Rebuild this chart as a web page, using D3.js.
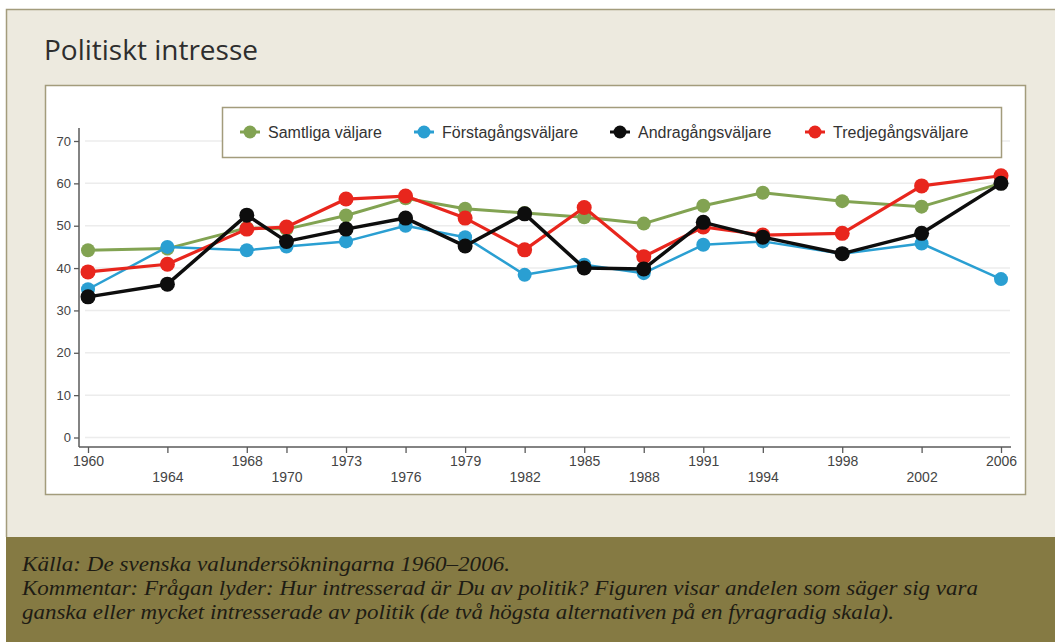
<!DOCTYPE html>
<html>
<head>
<meta charset="utf-8">
<script src="https://cdn.jsdelivr.net/npm/d3@7"></script>
<style>
    body { margin: 0; background: #fff; }
    svg { display: block; }
</style>
</head>
<body>
<div id="chart"></div>
<script>
// data
const years = [1960, 1964, 1968, 1970, 1973, 1976, 1979, 1982, 1985, 1988, 1991, 1994, 1998, 2002, 2006];
const samtliga = [44.2, 44.6, 49.5, 49.2, 52.4, 56.5, 54, 53, 52, 50.5, 54.7, 57.8, 55.8, 54.5, 60];
const forsta = [35, 45, 44.2, 45.1, 46.3, 50, 47.3, 38.4, 40.8, 38.8, 45.5, 46.3, 43.4, 45.8, 37.4];
const andra = [33.2, 36.2, 52.5, 46.3, 49.2, 51.8, 45.2, 52.8, 40, 39.8, 50.8, 47.3, 43.4, 48.2, 60];
const tredje = [39.1, 40.9, 49.2, 49.7, 56.3, 57, 51.8, 44.3, 54.3, 42.7, 49.7, 47.8, 48.2, 59.4, 61.8];
const seriesNames = ['Samtliga väljare', 'Förstagångsväljare', 'Andragångsväljare', 'Tredjegångsväljare'];
const yTicks = [0, 10, 20, 30, 40, 50, 60, 70];
const title = 'Politiskt intresse';
const notes = [
    'Källa: De svenska valundersökningarna 1960–2006.',
    'Kommentar: Frågan lyder: Hur intresserad är Du av politik? Figuren visar andelen som säger sig vara',
    'ganska eller mycket intresserade av politik (de två högsta alternativen på en fyragradig skala).'
];

function lineChart({
    bind = null,
    width = 1055,
    height = 642,
} = {}) {

    const svg = bind.append('svg')
        .attr('width', width)
        .attr('height', height);

    const frameColor = '#a39c7c';

    // beige page with frame lines on top and left
    svg.append('rect')
        .attr('x', 6).attr('y', 9)
        .attr('width', width - 6).attr('height', 537 - 9)
        .attr('fill', '#edeadf');
    svg.append('path')
        .attr('d', `M${width},9.5H6.5V537`)
        .attr('fill', 'none')
        .attr('stroke', frameColor)
        .attr('stroke-width', 1.5);

    svg.append('text')
        .attr('x', 44).attr('y', 60)
        .attr('font-family', '"Open Sans", sans-serif')
        .attr('font-size', 28)
        .attr('fill', '#2e2e2e')
        .text(title);

    // white plot panel
    svg.append('rect')
        .attr('x', 45.5).attr('y', 85.5)
        .attr('width', 980).attr('height', 409)
        .attr('fill', '#fff')
        .attr('stroke', frameColor)
        .attr('stroke-width', 1.5);

    // footer
    const footer = svg.append('g');
    footer.append('rect')
        .attr('x', 6).attr('y', 537)
        .attr('width', width - 6).attr('height', height - 537)
        .attr('fill', '#857a43');
    const noteWidths = [488, 956, 872];
    footer.selectAll('text')
        .data(notes)
        .join('text')
        .attr('x', 22)
        .attr('y', (d, i) => 571 + i * 24)
        .attr('font-family', '"Liberation Serif", "Times New Roman", serif')
        .attr('font-style', 'italic')
        .attr('font-size', 20)
        .attr('fill', '#1e1c14')
        .attr('textLength', (d, i) => noteWidths[i])
        .attr('lengthAdjust', 'spacingAndGlyphs')
        .text(d => d);

    // scales
    const x = d3.scaleLinear().domain([1960, 2006]).range([88, 1001]);
    const y = d3.scaleLinear().domain([0, 70]).range([437.5, 141]);

    const axisColor = '#5a5a5a';
    const font = '"Liberation Sans", Arial, sans-serif';

    // grid
    svg.append('g')
        .selectAll('line')
        .data(yTicks)
        .join('line')
        .attr('x1', 85).attr('x2', 1010)
        .attr('y1', d => y(d)).attr('y2', d => y(d))
        .attr('stroke', '#ececec')
        .attr('stroke-width', 1.5);

    // y axis
    const yAxis = svg.append('g')
        .attr('transform', 'translate(79,0)')
        .call(d3.axisLeft(y).tickValues(yTicks).tickSize(5).tickPadding(3));
    yAxis.select('.domain').remove();
    yAxis.selectAll('line').attr('stroke', axisColor).attr('stroke-width', 1.3);
    yAxis.selectAll('text')
        .attr('font-family', font)
        .attr('font-size', 13)
        .attr('fill', '#444');
    svg.append('line')
        .attr('x1', 79).attr('x2', 79)
        .attr('y1', 128).attr('y2', 447)
        .attr('stroke', axisColor).attr('stroke-width', 1.5);

    // x axis, labels on two alternating rows
    const xAxis = svg.append('g')
        .attr('transform', 'translate(0,447)')
        .call(d3.axisBottom(x).tickValues(years).tickFormat(d3.format('d')).tickSize(6).tickPadding(4));
    xAxis.select('.domain').remove();
    xAxis.selectAll('line').attr('stroke', axisColor).attr('stroke-width', 1.3);
    xAxis.selectAll('text')
        .attr('font-family', font)
        .attr('font-size', 14)
        .attr('fill', '#444')
        .attr('y', (d, i) => i % 2 === 0 ? 9 : 25);
    svg.append('line')
        .attr('x1', 79).attr('x2', 1011)
        .attr('y1', 447).attr('y2', 447)
        .attr('stroke', axisColor).attr('stroke-width', 1.5);

    // series
    const series = [
        {name: seriesNames[0], values: samtliga, color: '#82a352', width: 3, r: 7},
        {name: seriesNames[1], values: forsta, color: '#2a9fd2', width: 2.5, r: 7},
        {name: seriesNames[3], values: tredje, color: '#e8261d', width: 3.2, r: 7.5},
        {name: seriesNames[2], values: andra, color: '#0d0d0d', width: 3.5, r: 7.5},
    ];

    const line = d3.line()
        .x((d, i) => x(years[i]))
        .y(d => y(d));

    const groups = svg.append('g')
        .selectAll('g.series')
        .data(series)
        .join('g')
        .classed('series', true);

    groups.append('path')
        .attr('d', d => line(d.values))
        .attr('fill', 'none')
        .attr('stroke', d => d.color)
        .attr('stroke-width', d => d.width)
        .attr('stroke-linejoin', 'round');

    groups.selectAll('circle')
        .data(d => d.values.map((v, i) => ({v, i, s: d})))
        .join('circle')
        .attr('cx', d => x(years[d.i]))
        .attr('cy', d => y(d.v))
        .attr('r', d => d.s.r)
        .attr('fill', d => d.s.color);

    // legend
    const legend = svg.append('g');
    legend.append('rect')
        .attr('x', 222.5).attr('y', 107.5)
        .attr('width', 779).attr('height', 50)
        .attr('fill', '#fff')
        .attr('stroke', frameColor)
        .attr('stroke-width', 1.5);

    const legendItems = [
        {name: seriesNames[0], color: '#82a352', x: 250},
        {name: seriesNames[1], color: '#2a9fd2', x: 424},
        {name: seriesNames[2], color: '#0d0d0d', x: 620},
        {name: seriesNames[3], color: '#e8261d', x: 815},
    ];
    const items = legend.selectAll('g.item')
        .data(legendItems)
        .join('g')
        .classed('item', true)
        .attr('transform', d => `translate(${d.x},132)`);
    items.append('line')
        .attr('x1', -10).attr('x2', 10)
        .attr('stroke', d => d.color)
        .attr('stroke-width', 3);
    items.append('circle')
        .attr('r', 6.5)
        .attr('fill', d => d.color);
    items.append('text')
        .attr('x', 18)
        .attr('dy', '0.35em')
        .attr('font-family', font)
        .attr('font-size', 16)
        .attr('fill', '#333')
        .text(d => d.name);
}

lineChart({bind: d3.select('#chart')});
</script>
</body>
</html>
